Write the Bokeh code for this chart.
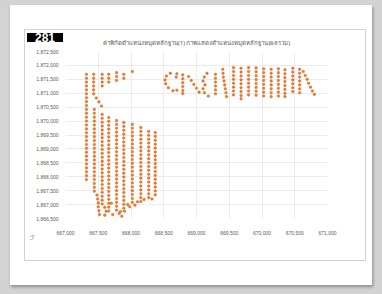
from bokeh.plotting import figure
from bokeh.models import ColumnDataSource, NumeralTickFormatter, Label, Range1d, Spacer
from bokeh.layouts import column, row
from bokeh.embed import file_html
from bokeh.resources import INLINE

# ---------------- data ----------------
title_text = "ค่าพิกัดตำแหน่งหมุดหลักฐาน(1) ภาพแสดงตำแหน่งหมุดหลักฐาน(ผลรวม)"
badge_text = "281"
x_ticks = [667000, 667500, 668000, 668500, 669000, 669500, 670000, 670500, 671000]
y_ticks = [1866500, 1867000, 1867500, 1868000, 1868500, 1869000, 1869500,
           1870000, 1870500, 1871000, 1871500, 1872000, 1872500]

# western block: survey lines (easting, list of northings)
colA_e = 667320
colA_n = [1871680, 1871540, 1871400, 1871260, 1871120, 1870980, 1870840, 1870700, 1870560, 1870420,
          1870280, 1870140, 1870000, 1869860, 1869720, 1869580, 1869440, 1869300, 1869160, 1869020,
          1868880, 1868740, 1868600, 1868460, 1868320, 1868180, 1868040, 1867900]
colB_top_e = 667430
colB_top_n = [1871680, 1871540, 1871400, 1871260, 1871120, 1870980]
colB_e = 667440
colB_n = [1870420, 1870280, 1870140, 1870000, 1869860, 1869720, 1869580, 1869440, 1869300, 1869160,
          1869020, 1868880, 1868740, 1868600, 1868460, 1868320, 1868180, 1868040, 1867900, 1867760,
          1867620, 1867480]
colC_top_e = 667560
colC_top_n = [1871680, 1871540, 1871400, 1871260]
colC_e = 667560
colC_n = [1870240, 1870100, 1869960, 1869820, 1869680, 1869540, 1869400, 1869260, 1869120, 1868980,
          1868840, 1868700, 1868560, 1868420, 1868280, 1868140, 1868000, 1867860, 1867720, 1867580,
          1867440, 1867300, 1867160, 1867020]
colD_top_e = 667660
colD_top_n = [1871680, 1871540, 1871400]
colD_e = 667660
colD_n = [1870130, 1869990, 1869850, 1869710, 1869570, 1869430, 1869290, 1869150, 1869010, 1868870,
          1868730, 1868590, 1868450, 1868310, 1868170, 1868030, 1867890, 1867750, 1867610, 1867470,
          1867330, 1867190, 1867050, 1866910, 1866770]
colE_top_e = 667780
colE_top_n = [1871740, 1871600, 1871460]
colE_e = 667780
colE_n = [1870020, 1869880, 1869740, 1869600, 1869460, 1869320, 1869180, 1869040, 1868900, 1868760,
          1868620, 1868480, 1868340, 1868200, 1868060, 1867920, 1867780, 1867640, 1867500, 1867360,
          1867220, 1867080, 1866940, 1866800]
colF_top_e = 667890
colF_top_n = [1871680, 1871540]
colF_e = 667890
colF_n = [1869950, 1869810, 1869670, 1869530, 1869390, 1869250, 1869110, 1868970, 1868830, 1868690,
          1868550, 1868410, 1868270, 1868130, 1867990, 1867850, 1867710, 1867570, 1867430, 1867290,
          1867150, 1867010, 1866870]
colG_top_e = 668020
colG_top_n = [1871780]
colG_e = 668020
colG_n = [1869880, 1869740, 1869600, 1869460, 1869320, 1869180, 1869040, 1868900, 1868760, 1868620,
          1868480, 1868340, 1868200, 1868060, 1867920, 1867780, 1867640, 1867500, 1867360, 1867220,
          1867080]
colH_e = 668150
colH_n = [1869770, 1869630, 1869490, 1869350, 1869210, 1869070, 1868930, 1868790, 1868650, 1868510,
          1868370, 1868230, 1868090, 1867950, 1867810, 1867670, 1867530, 1867390, 1867250, 1867110]
colI_e = 668270
colI_n = [1869630, 1869490, 1869350, 1869210, 1869070, 1868930, 1868790, 1868650, 1868510, 1868370,
          1868230, 1868090, 1867950, 1867810, 1867670, 1867530, 1867390, 1867250]
colJ_e = 668370
colJ_n = [1869590, 1869450, 1869310, 1869170, 1869030, 1868890, 1868750, 1868610, 1868470, 1868330,
          1868190, 1868050, 1867910, 1867770, 1867630, 1867490, 1867350]

# western block: loose points (bend and southern tail)
west_extra_e = [667470, 667510, 667550, 667480, 667490, 667500, 667500, 667510, 667520,
                667600, 667620, 667600, 667720, 667700, 667820, 667860, 667900, 667980,
                668060, 668100, 668200, 668320, 667950, 667840]
west_extra_n = [1870830, 1870690, 1870540, 1867340, 1867200, 1867060, 1866920, 1866780, 1866640,
                1866900, 1866760, 1866620, 1866640, 1867050, 1866680, 1866580, 1866760, 1866920,
                1866980, 1867100, 1867180, 1867200, 1867000, 1866750]

# eastern block: irregular western part
east_curve_e = [668600, 668540, 668520, 668530, 668570, 668640, 668700, 668690, 668700,
                668880, 668920, 668960, 669000, 669040,
                669160, 669120, 669100, 669130, 669100, 669120, 669180,
                669400, 669405, 669410, 669420, 669430, 669440, 669450, 669460]
east_curve_n = [1871720, 1871620, 1871480, 1871340, 1871200, 1871090, 1871110, 1871580, 1871700,
                1871600, 1871460, 1871320, 1871180, 1871040,
                1871720, 1871580, 1871440, 1871300, 1871160, 1871020, 1870900,
                1871860, 1871720, 1871580, 1871440, 1871300, 1871160, 1871020, 1870880]
colK_e = 668790
colK_n = [1871660, 1871520, 1871380, 1871240, 1871100, 1870990]
colL_e = 669290
colL_n = [1871680, 1871540, 1871400, 1871260, 1871120, 1870980]

# eastern block: regular lines
colR1_e = 669565
colR1_n = [1871920, 1871780, 1871640, 1871500, 1871360, 1871220, 1871080, 1870940]
colR2_e = 669680
colR2_n = [1871900, 1871760, 1871620, 1871480, 1871340, 1871200, 1871060, 1870920, 1870800]
colR3_e = 669795
colR3_n = [1871920, 1871780, 1871640, 1871500, 1871360, 1871220, 1871080, 1870940]
colR4_e = 669910
colR4_n = [1871910, 1871770, 1871630, 1871490, 1871350, 1871210, 1871070, 1870930]
colR5_e = 670025
colR5_n = [1871880, 1871740, 1871600, 1871460, 1871320, 1871180, 1871040, 1870900]
colR6_e = 670140
colR6_n = [1871860, 1871720, 1871580, 1871440, 1871300, 1871160, 1871020, 1870880]
colR7_e = 670250
colR7_n = [1871880, 1871740, 1871600, 1871460, 1871320, 1871180, 1871040, 1870900]
colR8_e = 670350
colR8_n = [1871840, 1871700, 1871560, 1871420, 1871280, 1871140, 1871000, 1870880]
colR9_e = 670470
colR9_n = [1871900, 1871760, 1871620, 1871480, 1871340, 1871200, 1871060]
colR10_e = 670575
colR10_n = [1871860, 1871720, 1871580, 1871440, 1871300, 1871160, 1871020]
east_diag_e = [670630, 670660, 670690, 670710, 670740, 670770, 670800]
east_diag_n = [1871780, 1871640, 1871500, 1871360, 1871220, 1871080, 1870960]

# ---------------- assemble ----------------
lines = [(colA_e, colA_n), (colB_top_e, colB_top_n), (colB_e, colB_n),
         (colC_top_e, colC_top_n), (colC_e, colC_n), (colD_top_e, colD_top_n), (colD_e, colD_n),
         (colE_top_e, colE_top_n), (colE_e, colE_n), (colF_top_e, colF_top_n), (colF_e, colF_n),
         (colG_top_e, colG_top_n), (colG_e, colG_n), (colH_e, colH_n), (colI_e, colI_n),
         (colJ_e, colJ_n), (colK_e, colK_n), (colL_e, colL_n),
         (colR1_e, colR1_n), (colR2_e, colR2_n), (colR3_e, colR3_n), (colR4_e, colR4_n),
         (colR5_e, colR5_n), (colR6_e, colR6_n), (colR7_e, colR7_n), (colR8_e, colR8_n),
         (colR9_e, colR9_n), (colR10_e, colR10_n)]
xs, ys = [], []
for e, ns in lines:
    xs += [e] * len(ns)
    ys += list(ns)
for ee, nn in [(west_extra_e, west_extra_n), (east_curve_e, east_curve_n), (east_diag_e, east_diag_n)]:
    xs += ee
    ys += nn
src = ColumnDataSource(dict(x=xs, y=ys))

# ---------------- figure (the chart area inside the card) ----------------
W, H = 340, 230
FL, FT, FW, FH = 40, 21, 262, 167
p = figure(width=W, height=H, output_backend="svg", toolbar_location=None,
           x_range=Range1d(667000, 671000), y_range=Range1d(1866500, 1872500),
           min_border_left=FL, min_border_right=W - FL - FW,
           min_border_top=FT, min_border_bottom=H - FT - FH,
           styles={"outline": "1px solid #d2d2d2"})
p.title.text = title_text
p.title.align = "center"
p.title.text_font = "Noto Sans"
p.title.text_font_size = "6px"
p.title.text_font_style = "normal"
p.title.text_color = "#595959"
p.title.standoff = 10
p.border_fill_color = "white"
p.background_fill_color = "white"
p.outline_line_color = None

p.add_layout(Label(x=19.5, y=7, x_units="canvas", y_units="canvas", text=badge_text,
                   text_align="center", text_baseline="middle", text_color="white",
                   text_font="Liberation Sans", text_font_style="bold", text_font_size="12px",
                   background_fill_color="black", background_fill_alpha=1,
                   padding=dict(left=8, right=8, top=0, bottom=0)), "below")
p.add_layout(Label(x=7, y=207, x_units="canvas", y_units="canvas", text="ℱ",
                   text_align="center", text_baseline="middle", text_color="#7f7f7f",
                   text_font="DejaVu Sans", text_font_size="7px"), "left")

for ax in (p.xaxis[0], p.yaxis[0]):
    ax.formatter = NumeralTickFormatter(format="0,0")
    ax.axis_line_color = None
    ax.major_tick_line_color = None
    ax.minor_tick_line_color = None
    ax.major_label_text_font = "Liberation Sans"
    ax.major_label_text_font_size = "5px"
    ax.major_label_text_color = "#595959"
p.xaxis.ticker = x_ticks
p.yaxis.ticker = y_ticks
p.xaxis.major_label_standoff = 6
p.yaxis.major_label_standoff = 1
p.xgrid.ticker = x_ticks
p.ygrid.ticker = y_ticks
p.grid.grid_line_color = "#e4e4e4"
p.grid.grid_line_width = 0.7

p.scatter(x="x", y="y", source=src, marker="circle", size=2.6,
          fill_color="#ED7D31", line_color="#C55A11", line_width=0.4)

# ---------------- white card on grey window ----------------
card = column(Spacer(height=25, width=362),
              row(Spacer(width=15, height=H), p, Spacer(width=7, height=H)),
              Spacer(height=25, width=362),
              styles={"background-color": "white", "box-shadow": "1px 2px 3px rgba(0,0,0,0.35)"})
page = column(Spacer(height=5, width=382),
              row(Spacer(width=10, height=280), card, Spacer(width=10, height=280)),
              Spacer(height=9, width=382),
              styles={"background-color": "#d3d3d3"})

open("out.html", "w").write(file_html(page, INLINE))
